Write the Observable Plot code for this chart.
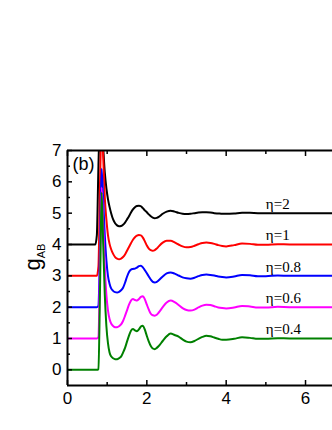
<!DOCTYPE html>
<html><head><meta charset="utf-8">
<script src="https://cdn.jsdelivr.net/npm/d3@7"></script>
<script src="https://cdn.jsdelivr.net/npm/@observablehq/plot@0.6"></script>
<style>body{margin:0;background:#fff;}</style>
</head><body><div id="chart"></div>
<script>
// r values (shared grid)
const r = [0, 0.70, 0.74, 0.78, 0.82, 0.86, 0.90, 0.94, 0.98, 1.02,
  1.06, 1.10, 1.15, 1.20, 1.25, 1.30, 1.35, 1.40, 1.45, 1.50,
  1.55, 1.60, 1.65, 1.70, 1.75, 1.80, 1.85, 1.90, 1.95, 2.00,
  2.05, 2.10, 2.15, 2.20, 2.25, 2.30, 2.40, 2.50, 2.60, 2.70,
  2.80, 2.90, 3.00, 3.10, 3.20, 3.30, 3.40, 3.50, 3.60, 3.70,
  3.80, 3.90, 4.00, 4.20, 4.40, 4.60, 4.80, 5.00, 5.30, 5.60,
  6.00, 6.40, 6.70];
// g_AB curves as plotted (shifted)
const gEta2 = [4, 4, 4.3, 6.5, 8.0, 8.0, 7.1, 6.3, 5.8, 5.45,
  5.2, 5.0, 4.8, 4.68, 4.61, 4.58, 4.59, 4.63, 4.70, 4.80,
  4.90, 5.02, 5.12, 5.19, 5.23, 5.24, 5.22, 5.16, 5.09, 5.03,
  4.96, 4.90, 4.86, 4.84, 4.85, 4.88, 4.98, 5.05, 5.08, 5.05,
  5.01, 4.98, 4.97, 4.98, 5.00, 5.02, 5.03, 5.03, 5.02, 5.00,
  4.99, 4.98, 4.98, 4.99, 5.01, 5.01, 5.00, 5.00, 5.00, 5.00,
  5.00, 5.00, 5.00];
const gEta1 = [3, 3, 3, 3.3, 6.0, 7.8, 6.8, 5.5, 4.8, 4.3,
  4.02, 3.85, 3.70, 3.60, 3.55, 3.53, 3.55, 3.60, 3.68, 3.80,
  3.92, 4.04, 4.15, 4.23, 4.28, 4.30, 4.29, 4.22, 4.10, 3.97,
  3.87, 3.82, 3.80, 3.82, 3.87, 3.94, 4.06, 4.12, 4.12, 4.07,
  4.00, 3.94, 3.91, 3.92, 3.96, 4.01, 4.05, 4.06, 4.05, 4.02,
  3.98, 3.95, 3.94, 3.98, 4.03, 4.02, 3.99, 3.99, 4.01, 4.00,
  4.00, 4.00, 4.00];
const gEta08 = [2, 2, 2, 2.05, 4.0, 6.42, 5.4, 4.3, 3.5, 3.0,
  2.75, 2.60, 2.52, 2.48, 2.47, 2.49, 2.54, 2.62, 2.78, 2.97,
  3.12, 3.20, 3.22, 3.23, 3.26, 3.31, 3.32, 3.27, 3.18, 3.08,
  2.98, 2.88, 2.81, 2.79, 2.81, 2.86, 2.98, 3.08, 3.11, 3.07,
  3.01, 2.95, 2.92, 2.91, 2.94, 2.99, 3.03, 3.04, 3.03, 3.01,
  2.98, 2.96, 2.95, 2.98, 3.03, 3.02, 2.99, 2.99, 3.01, 3.00,
  3.00, 3.00, 3.00];
const gEta06 = [1, 1, 1, 1.05, 3.4, 5.82, 4.6, 3.3, 2.4, 1.9,
  1.62, 1.48, 1.40, 1.36, 1.36, 1.39, 1.45, 1.56, 1.72, 1.90,
  2.08, 2.21, 2.26, 2.23, 2.21, 2.26, 2.33, 2.35, 2.25, 2.08,
  1.92, 1.79, 1.74, 1.73, 1.76, 1.83, 2.00, 2.15, 2.21, 2.16,
  2.07, 1.97, 1.91, 1.89, 1.92, 1.99, 2.05, 2.08, 2.07, 2.03,
  1.99, 1.97, 1.96, 1.99, 2.04, 2.02, 1.99, 1.99, 2.01, 2.00,
  2.00, 2.00, 2.00];
const gEta04 = [0, 0, 0, 0.02, 2.6, 5.66, 4.0, 2.4, 1.4, 0.85,
  0.55, 0.43, 0.37, 0.34, 0.34, 0.37, 0.42, 0.55, 0.70, 0.90,
  1.09, 1.25, 1.30, 1.26, 1.23, 1.29, 1.38, 1.41, 1.28, 1.08,
  0.90, 0.76, 0.68, 0.66, 0.70, 0.76, 0.92, 1.07, 1.16, 1.11,
  1.06, 0.97, 0.90, 0.88, 0.92, 0.99, 1.05, 1.09, 1.07, 1.03,
  0.99, 0.96, 0.96, 0.99, 1.04, 1.02, 0.99, 0.99, 1.01, 1.00,
  1.00, 1.00, 1.00];

const seriesNames = ["η=2", "η=1", "η=0.8", "η=0.6", "η=0.4"];
const seriesValues = [gEta2, gEta1, gEta08, gEta06, gEta04];
const seriesBase = [5, 4, 3, 2, 1];
const seriesColors = ["#000000", "#ff0000", "#0000ff", "#ff00ff", "#008000"];
const labelR = 5.0;

const xMajor = [0, 2, 4, 6];
const xMinor = [1, 3, 5];
const yMajor = [0, 1, 2, 3, 4, 5, 6, 7];
const yMinor = [0.5, 1.5, 2.5, 3.5, 4.5, 5.5, 6.5];

const rows = [];
seriesNames.forEach((name, i) => {
  r.forEach((rv, j) => rows.push({r: rv, g: seriesValues[i][j], series: name}));
});
const labels = seriesNames.map((name, i) => ({name, y: seriesBase[i]}));

const tickStyle = {label: null, fill: "none", strokeWidth: 1.5};
const svg = Plot.plot({
  width: 332, height: 430,
  marginTop: 150, marginBottom: 45, marginLeft: 67, marginRight: 0,
  style: {fontFamily: "'Liberation Sans', Arial, sans-serif", fontSize: "17px", background: "#fff", overflow: "visible"},
  x: {domain: [0, 6.68]},
  y: {domain: [-0.5, 7]},
  color: {domain: seriesNames, range: seriesColors},
  marks: [
    Plot.line(rows, {x: "r", y: "g", z: "series", stroke: "series", strokeWidth: 2, curve: "monotone-x", clip: true}),
    Plot.text(labels, {x: () => labelR, y: "y", text: "name", textAnchor: "start", dy: -9,
      fontFamily: "'Liberation Serif', 'Times New Roman', serif", fontSize: 15, fill: "#000"}),
    Plot.text(["(b)"], {frameAnchor: "top-left", dx: 5, dy: 7, lineAnchor: "top", textAnchor: "start", fontSize: 18}),
    Plot.axisY(yMajor, {anchor: "left", tickSize: 0, tickPadding: 6, label: null, fontSize: 17}),
    Plot.axisX(xMajor, {anchor: "bottom", tickSize: 0, tickPadding: 6, label: null, fontSize: 17}),
    Plot.axisY(yMajor, {anchor: "left", tickSize: -5, ...tickStyle}),
    Plot.axisY(yMinor, {anchor: "left", tickSize: -3, ...tickStyle}),
    Plot.axisX(xMajor, {anchor: "bottom", tickSize: -5, ...tickStyle}),
    Plot.axisX(xMinor, {anchor: "bottom", tickSize: -3, ...tickStyle}),
    Plot.axisX(xMajor, {anchor: "top", tickSize: -5, ...tickStyle}),
    Plot.axisX(xMinor, {anchor: "top", tickSize: -3, ...tickStyle}),
    Plot.ruleX([0], {strokeWidth: 2}),
    Plot.ruleY([-0.5, 7], {strokeWidth: 2})
  ]
});

// y-axis title with subscript
const title = d3.select(svg).append("text")
  .attr("transform", "translate(40,257) rotate(-90)")
  .attr("text-anchor", "middle")
  .attr("fill", "#000")
  .style("font-family", "'Liberation Sans', Arial, sans-serif");
title.append("tspan").attr("font-size", 22).text("g");
title.append("tspan").attr("font-size", 11).attr("dy", 5).text("AB");

document.getElementById("chart").appendChild(svg);
</script>
</body></html>
